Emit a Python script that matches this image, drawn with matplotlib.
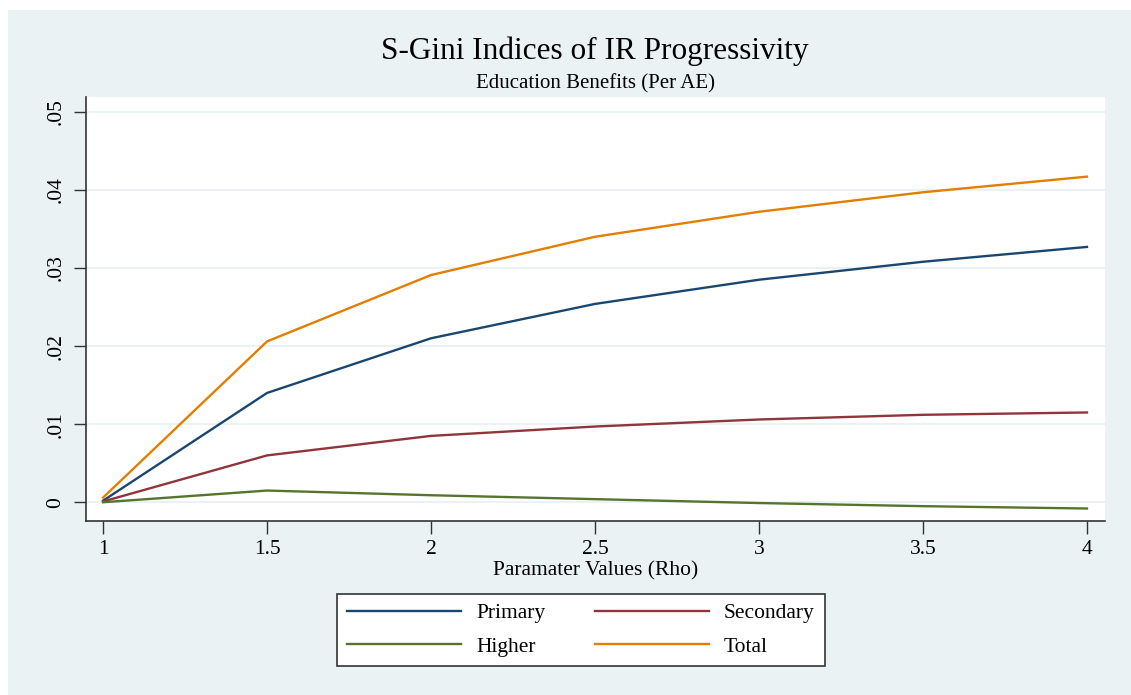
import matplotlib.pyplot as plt
from matplotlib.patches import Rectangle

rho = [1, 1.5, 2, 2.5, 3, 3.5, 4]
primary = [0.0002, 0.0140, 0.0210, 0.0254, 0.0285, 0.0308, 0.0327]
secondary = [0.0001, 0.0060, 0.0085, 0.0097, 0.0106, 0.0112, 0.0115]
higher = [0.0, 0.0015, 0.0009, 0.0004, -0.0001, -0.0005, -0.0008]
total = [0.0006, 0.0206, 0.0291, 0.0340, 0.0372, 0.0397, 0.0417]

x_ticks = [1, 1.5, 2, 2.5, 3, 3.5, 4]
x_labels = ['1', '1.5', '2', '2.5', '3', '3.5', '4']
y_ticks = [0, 0.01, 0.02, 0.03, 0.04, 0.05]
y_labels = ['0', '.01', '.02', '.03', '.04', '.05']

bg = '#eaf2f3'
plt.rcParams['font.family'] = ['Liberation Serif', 'DejaVu Serif']

fig = plt.figure(figsize=(11.31, 6.95), dpi=100, facecolor='white')
fig.patches.append(Rectangle((8 / 1131, 0), 1, 1 - 10 / 695, transform=fig.transFigure,
                             facecolor=bg, edgecolor='none', zorder=-10))

ax = fig.add_axes([86 / 1131, 174 / 695, 1019 / 1131, 424 / 695])
ax.set_facecolor('white')

l1, = ax.plot(rho, primary, color='#1a476f', lw=1.7, label='Primary')
l2, = ax.plot(rho, secondary, color='#90353b', lw=1.7, label='Secondary')
l3, = ax.plot(rho, higher, color='#55752f', lw=1.7, label='Higher')
l4, = ax.plot(rho, total, color='#e37e00', lw=1.7, label='Total')

ax.set_xlim(0.948, 4.055)
ax.set_ylim(-0.0024, 0.0519)
ax.set_xticks(x_ticks)
ax.set_xticklabels(x_labels, fontsize=15.5)
ax.set_yticks(y_ticks)
ax.set_yticklabels(y_labels, fontsize=15.5, rotation=90, va='center')
ax.grid(axis='y', color=bg, lw=1.5)
ax.set_axisbelow(True)
ax.tick_params(axis='x', length=9, width=1, color='#333333', pad=5)
ax.tick_params(axis='y', length=9, width=1, color='#333333', pad=6)

for s in ['top', 'right']:
    ax.spines[s].set_visible(False)
for s in ['left', 'bottom']:
    ax.spines[s].set_color('#333333')
    ax.spines[s].set_linewidth(1.2)

fig.text(596 / 1131, 1 - 571 / 695, 'Paramater Values (Rho)',
         ha='center', va='center', fontsize=15.5)
fig.text(595 / 1131, 1 - 51 / 695, 'S-Gini Indices of IR Progressivity',
         ha='center', va='center', fontsize=22.5)
fig.text(595 / 1131, 1 - 84 / 695, 'Education Benefits (Per AE)',
         ha='center', va='center', fontsize=15)

# row-wise order like stata: Primary Secondary / Higher Total
leg = fig.legend([l1, l3, l2, l4], ['Primary', 'Higher', 'Secondary', 'Total'], ncol=2,
                 loc='center', bbox_to_anchor=(581 / 1131, 1 - 630 / 695),
                 fontsize=15.5, handlelength=5.3, handletextpad=0.7, columnspacing=2.3,
                 fancybox=False, frameon=True, borderpad=0.45, labelspacing=0.62)
leg.get_frame().set_edgecolor('#333333')
leg.get_frame().set_linewidth(1.2)
leg.get_frame().set_facecolor('white')
leg.get_frame().set_alpha(1)

plt.savefig('out.png', dpi=100, facecolor=fig.get_facecolor())
